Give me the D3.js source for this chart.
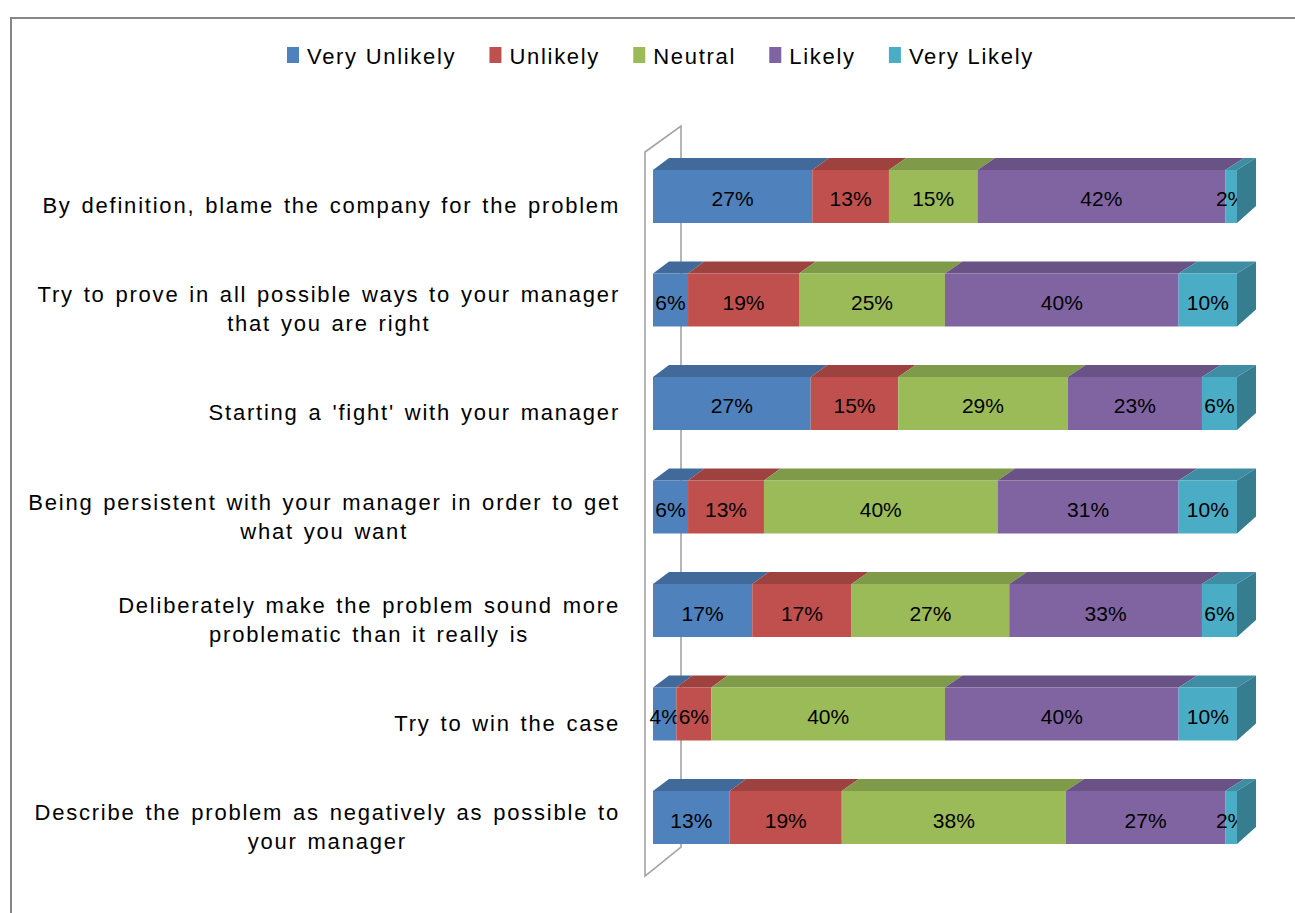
<!DOCTYPE html>
<html>
<head>
<meta charset="utf-8">
<script src="https://cdn.jsdelivr.net/npm/d3@7"></script>
<style>
  body { margin: 0; background: #fff; }
  svg { display: block; }
  text { font-family: "Liberation Sans", Arial, sans-serif; fill: #000; }
</style>
</head>
<body>
<div class="chart"></div>
<script>
// Chart data
var categories = [
    "By definition, blame the company for the problem",
    "Try to prove in all possible ways to your manager\nthat you are right",
    "Starting a 'fight' with your manager",
    "Being persistent with your manager in order to get\nwhat you want",
    "Deliberately make the problem sound more\nproblematic than it really is",
    "Try to win the case",
    "Describe the problem as negatively as possible to\nyour manager"
];
var seriesNames = ["Very Unlikely", "Unlikely", "Neutral", "Likely", "Very Likely"];
var veryUnlikely = [27, 6, 27, 6, 17, 4, 13];
var unlikely     = [13, 19, 15, 13, 17, 6, 19];
var neutral      = [15, 25, 29, 40, 27, 40, 38];
var likely       = [42, 40, 23, 31, 33, 40, 27];
var veryLikely   = [2, 10, 6, 10, 6, 10, 2];
var seriesColors = ["#4F81BD", "#C0504D", "#9BBB59", "#8064A2", "#4BACC6"];

var width = 1295, height = 913;
var plot = {left: 653, right: 1237, top: 170, bottom: 844};
var depthY = 12;

// build the rows the stack wants
var seriesValues = [veryUnlikely, unlikely, neutral, likely, veryLikely];
var rows = categories.map(function(c, i) {
    var r = {cat: c};
    seriesNames.forEach(function(s, j) { r[s] = seriesValues[j][i]; });
    return r;
});

var stack = d3.stack()
    .keys(seriesNames)
    .order(d3.stackOrderNone)
    .offset(d3.stackOffsetExpand);
var stacked = stack(rows);

var x = d3.scaleLinear().domain([0, 1]).range([plot.left, plot.right]);
var y = d3.scaleBand()
    .domain(categories)
    .range([plot.top, plot.bottom])
    .paddingInner(0.488)
    .paddingOuter(0);
var color = d3.scaleOrdinal().domain(seriesNames).range(seriesColors);

// depth offset grows a little to the right (perspective)
function depthX(px) { return 16 + 3 * (px - plot.left) / (plot.right - plot.left); }

var svg = d3.select(".chart").append("svg")
    .attr("width", width)
    .attr("height", height);

// outer chart border
svg.append("rect")
    .attr("x", 11).attr("y", 18)
    .attr("width", 1400).attr("height", 1000)
    .attr("fill", "none")
    .attr("stroke", "#868686")
    .attr("stroke-width", 2);

// side wall of the category axis
svg.append("path")
    .attr("d", "M645,876 L645,152 L681,126 L681,847 Z")
    .attr("fill", "none")
    .attr("stroke", "#a3a3a3")
    .attr("stroke-width", 1.6);

// legend
var legend = svg.append("g").attr("class", "legend");
var legendItems = legend.selectAll("g")
    .data(seriesNames)
    .enter().append("g");
legendItems.append("rect")
    .attr("y", 47)
    .attr("width", 12)
    .attr("height", 16)
    .attr("fill", function(d) { return color(d); });
legendItems.append("text")
    .attr("x", 20)
    .attr("y", 64)
    .style("font-size", "22px")
    .style("letter-spacing", "1.7px")
    .text(function(d) { return d; });

var lx = 287;
var itemW = [];
legendItems.each(function() {
    itemW.push(this.querySelector("text").getComputedTextLength() + 20);
});
var gap = (1034 - 287 - d3.sum(itemW)) / (seriesNames.length - 1);
legendItems.attr("transform", function(d, i) {
    var t = "translate(" + lx + ",0)";
    lx += itemW[i] + gap;
    return t;
});

// bars
var bars = svg.append("g").attr("class", "bars");
var series = bars.selectAll(".serie")
    .data(stacked)
    .enter().append("g")
    .attr("class", "serie");

function topFace(d) {
    var x0 = x(d[0]), x1 = x(d[1]), t = y(d.data.cat);
    return "M" + x0 + "," + t +
        " L" + x1 + "," + t +
        " L" + (x1 + depthX(x1)) + "," + (t - depthY) +
        " L" + (x0 + depthX(x0)) + "," + (t - depthY) + " Z";
}

series.selectAll(".top")
    .data(function(d) { return d.map(function(p) { p.key = d.key; return p; }); })
    .enter().append("path")
    .attr("class", "top")
    .attr("d", topFace)
    .attr("fill", function(d) { return d3.color(color(d.key)).darker(0.55); });

series.selectAll(".front")
    .data(function(d) { return d; })
    .enter().append("rect")
    .attr("class", "front")
    .attr("x", function(d) { return x(d[0]); })
    .attr("y", function(d) { return y(d.data.cat); })
    .attr("width", function(d) { return x(d[1]) - x(d[0]); })
    .attr("height", y.bandwidth())
    .attr("fill", function(d) { return color(d.key); });

// right-hand end of each bar
var last = stacked[stacked.length - 1];
bars.selectAll(".side")
    .data(last)
    .enter().append("path")
    .attr("class", "side")
    .attr("d", function(d) {
        var x1 = x(d[1]), t = y(d.data.cat), b = t + y.bandwidth(), dx = depthX(x1);
        return "M" + x1 + "," + t + " L" + (x1 + dx) + "," + (t - depthY) +
            " L" + (x1 + dx) + "," + (b - 17) + " L" + x1 + "," + b + " Z";
    })
    .attr("fill", d3.color(seriesColors[4]).darker(0.9));

// data labels
series.selectAll(".lbl")
    .data(function(d) { return d; })
    .enter().append("text")
    .attr("class", "lbl")
    .attr("x", function(d) { return (x(d[0]) + x(d[1])) / 2; })
    .attr("y", function(d) { return y(d.data.cat) + y.bandwidth() / 2 + 10; })
    .attr("text-anchor", "middle")
    .style("font-size", "21px")
    .text(function(d) { return d.data[d.key] + "%"; });

// category labels, each line centred, block right-aligned to the wall
var catLabels = svg.append("g").selectAll("text")
    .data(categories)
    .enter().append("text")
    .style("font-size", "22px")
    .style("letter-spacing", "1.78px")
    .style("word-spacing", "2px")
    .attr("text-anchor", "middle");

catLabels.each(function(c) {
    var el = d3.select(this);
    var lines = c.split("\n");
    var mid = y(c) + y.bandwidth() / 2;
    lines.forEach(function(line, i) {
        el.append("tspan")
            .attr("y", mid + 17 - (lines.length - 1) * 14.5 + i * 29)
            .text(line);
    });
    var maxW = d3.max(el.selectAll("tspan").nodes(), function(n) { return n.getComputedTextLength(); });
    el.selectAll("tspan").attr("x", 620 - maxW / 2);
});
</script>
</body>
</html>
